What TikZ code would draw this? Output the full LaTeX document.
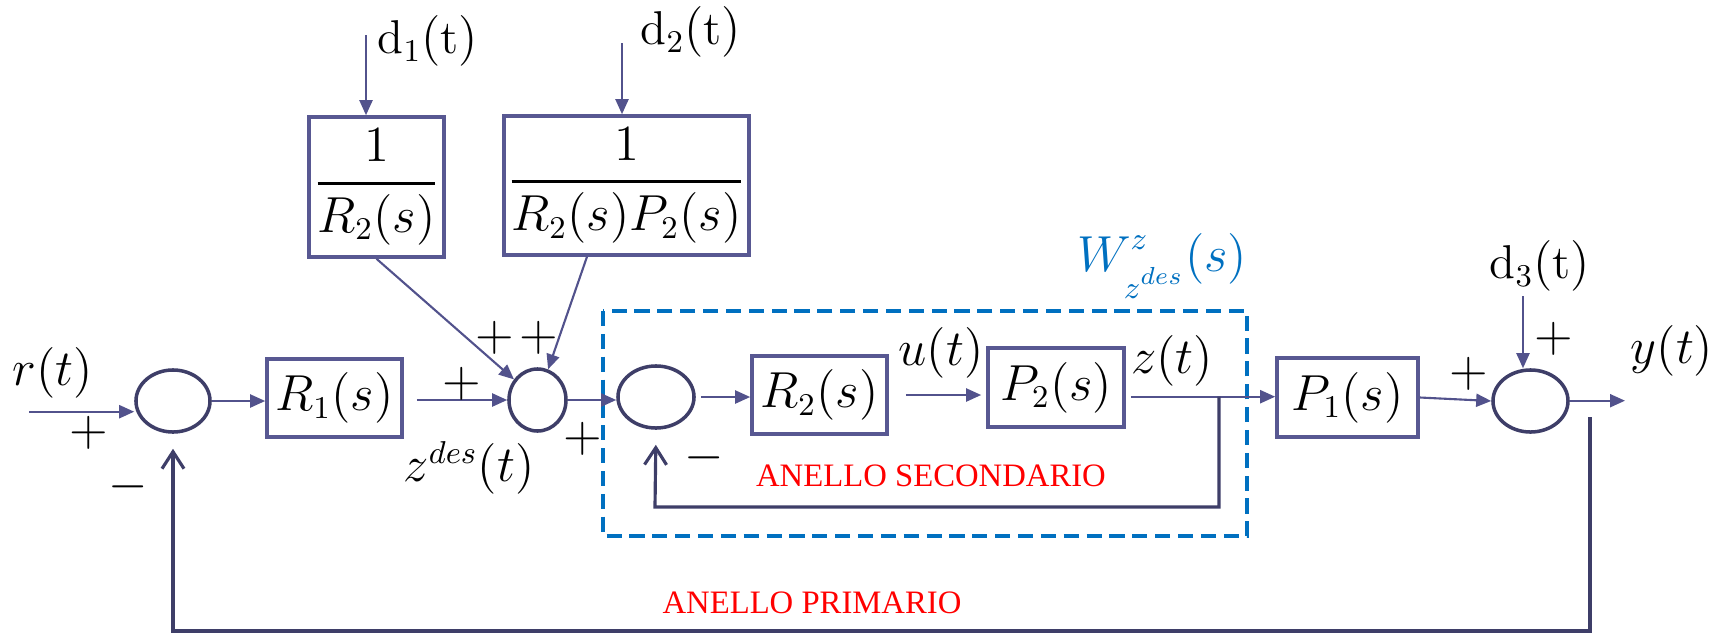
\documentclass[tikz,border=0pt]{standalone}
\usepackage{amsmath, amssymb}
\usepackage{fontspec}
\newfontfamily\anellofont{Liberation Serif}
\usepackage{tikz}
\usetikzlibrary{arrows.meta, shapes.geometric, calc}
\definecolor{sigline}{RGB}{82,82,140}
\definecolor{boxline}{RGB}{88,88,146}
\definecolor{sumline}{RGB}{62,62,104}
\definecolor{fbline}{RGB}{62,62,104}
\definecolor{loopblue}{RGB}{0,112,192}

\begin{document}
\begin{tikzpicture}
      [x=0.01cm, y=-0.01cm,
      font=\fontsize{13.5}{16}\selectfont,
      block/.style={rectangle, draw=boxline, line width=1pt, inner sep=1pt},
      sum/.style={ellipse, draw=sumline, line width=1pt, inner sep=0pt},
      sig/.style={-{Triangle[length=0.15cm, width=0.13cm]}, draw=sigline, line width=0.6pt},
      fb/.style={-{Straight Barb[length=0.17cm, width=0.22cm]}, draw=fbline, line width=0.9pt, shorten >=0.15cm},
      loopbox/.style={draw=loopblue, line width=1pt, dash pattern=on 4.3pt off 2.2pt},
      lbl/.style={inner sep=0pt},
      anello/.style={inner sep=0pt, text=red, font=\anellofont\fontsize{9.3}{11}\selectfont}]
      \useasboundingbox (0, 0) rectangle (1723, 633);
      \draw[loopbox] (603, 311) rectangle (1247, 536);
      \node (sum1) at (173, 401) [sum, minimum width=0.74cm, minimum height=0.62cm] {};
      \node (R1) at (334.5, 398) [block, minimum width=1.35cm, minimum height=0.78cm] {$R_1(s)$};
      \node (sum2) at (537.5, 400) [sum, minimum width=0.57cm, minimum height=0.62cm] {};
      \node (sum3) at (656, 397) [sum, minimum width=0.76cm, minimum height=0.62cm] {};
      \node (R2) at (819.5, 395) [block, minimum width=1.35cm, minimum height=0.78cm] {$R_2(s)$};
      \node (P2) at (1056, 387.5) [block, minimum width=1.36cm, minimum height=0.79cm] {$P_2(s)$};
      \node (P1) at (1347.5, 397.5) [block, minimum width=1.41cm, minimum height=0.79cm] {$P_1(s)$};
      \node (sum4) at (1530.5, 401) [sum, minimum width=0.75cm, minimum height=0.62cm] {};
      \node (F1) at (376.5, 187) [block, minimum width=1.35cm, minimum height=1.40cm]
      {$\genfrac{}{}{0.9pt}{0}{1}{R_2(s)}$};
      \node (F2) at (626.5, 185.5) [block, minimum width=2.45cm, minimum height=1.39cm]
      {$\genfrac{}{}{0.9pt}{0}{1}{R_2(s)P_2(s)}$};
      \coordinate (rin) at (29, 411.7);
      \coordinate (d1) at (366, 35);
      \coordinate (d2) at (622, 43);
      \coordinate (d3) at (1523, 296);
      \coordinate (yout) at (1625, 400.7);
      \coordinate (split2) at (1219, 396.7);
      \coordinate (fb2) at (655, 507);
      \coordinate (tap) at (1590, 417);
      \coordinate (fb1) at (173, 631);
      \draw[sig] (rin) -- (rin -| sum1.west);
      \draw[sig] (sum1.east) -- (sum1.east -| R1.west);
      \draw[sig, shorten <=0.13cm] (R1.east |- sum2.west) -- (sum2.west);
      \draw[sig] (sum2.east) -- (sum2.east -| sum3.west);
      \draw[sig, shorten <=0.05cm] (sum3.east) -- (sum3.east -| R2.west);
      \draw[sig, shorten <=0.17cm, shorten >=0.05cm] (R2.east) -- (R2.east -| P2.west);
      \draw[sig, shorten <=0.05cm] (P2.east |- split2) -- (split2 -| P1.west);
      \draw[sig] (P1.east) -- (sum4.west);
      \draw[sig] (sum4.east |- yout) -- (yout);
      \draw[sig] (d1) -- (d1 |- F1.north);
      \draw[sig] (d2) -- (d2 |- F2.north);
      \draw[sig] (d3) -- (d3 |- sum4.north);
      \draw[sig] (F1.south) -- (sum2);
      \draw[sig] (F2.241) -- (sum2);
      \draw[fb] (split2) |- (fb2) -- (sum3.south);
      \draw[fb] (tap) |- (fb1) -- (sum1.south);
      \node (lr) at (53, 373) [lbl] {$r(t)$};
      \node (lp1) at (89, 433) [lbl] {$+$};
      \node (lm1) at (128, 487) [lbl] {$-$};
      \node (lp2) at (462, 384) [lbl] {$+$};
      \node (lpp) at (517, 338) [lbl] {${+}\mkern2mu{+}$};
      \node (lp3) at (583, 439) [lbl] {$+$};
      \node (lzdes) at (469, 468) [lbl] {$z^{des}(t)$};
      \node (lm2) at (704, 458) [lbl] {$-$};
      \node (lu) at (941, 353) [lbl] {$u(t)$};
      \node (lz) at (1172, 361) [lbl] {$z(t)$};
      \node (lw) at (1162, 266) [lbl, text=loopblue]
      {$W^{\raisebox{1pt}{$\scriptstyle z$}}_{\raisebox{-4pt}{$\scriptstyle z^{des}$}}(s)$};
      \node (ld1) at (428, 41) [lbl] {$\mathrm{d}_1(\mathrm{t})$};
      \node (ld2) at (691, 32) [lbl] {$\mathrm{d}_2(\mathrm{t})$};
      \node (ld3) at (1540, 266) [lbl] {$\mathrm{d}_3(\mathrm{t})$};
      \node (lp4) at (1469, 374) [lbl] {$+$};
      \node (lp5) at (1554, 339) [lbl] {$+$};
      \node (ly) at (1672, 351) [lbl] {$y(t)$};
      \node (lsec) at (931, 476) [anello] {ANELLO SECONDARIO};
      \node (lprim) at (812, 603) [anello] {ANELLO PRIMARIO};
    \end{tikzpicture}
\end{document}
